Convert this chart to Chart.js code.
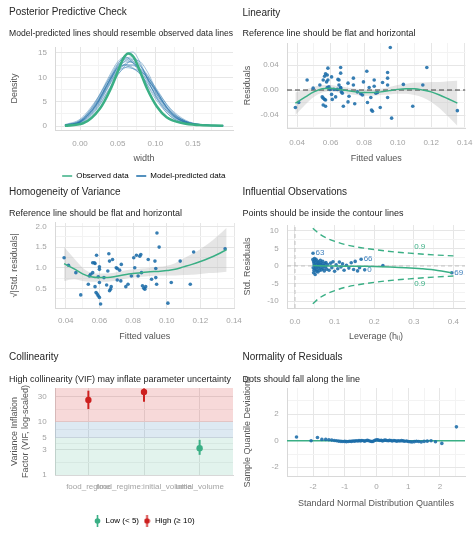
<!DOCTYPE html>
<html>
<head>
<meta charset="utf-8">
<title>Model checks</title>
<script src="https://cdn.jsdelivr.net/npm/chart.js@4.4.1/dist/chart.umd.min.js"></script>
<style>
  html, body { margin: 0; padding: 0; background: #fff; }
  #wrap { position: relative; width: 474px; height: 533px; }
  #wrap canvas { position: absolute; left: 0; top: 0; }
</style>
</head>
<body>
<div id="wrap">
  <canvas id="ppc" width="474" height="533"></canvas>
  <canvas id="lin" width="474" height="533"></canvas>
  <canvas id="homo" width="474" height="533"></canvas>
  <canvas id="infl" width="474" height="533"></canvas>
  <canvas id="vif" width="474" height="533"></canvas>
  <canvas id="qq" width="474" height="533"></canvas>
</div>
<script>
// ---- data ----

// Posterior predictive check
const obsX = [-0.02, 0.004, 0.0265, 0.04, 0.051, 0.0576, 0.064, 0.071, 0.08, 0.089, 0.102, 0.115, 0.137, 0.159, 0.19];
const obsY = [0.07, 0.55, 3.6, 7.4, 11.5, 13.9, 14.9, 14.2, 11.1, 7.7, 4.0, 1.8, 0.55, 0.2, 0.06];
const drawX = [-0.02, 0, 0.02, 0.04, 0.05, 0.06, 0.07, 0.08, 0.09, 0.10, 0.12, 0.14, 0.16, 0.19];
const ppcDraws = [
  [0.1, 0.8, 4.0, 9.5, 12.0, 13.2, 13.0, 11.5, 9.0, 6.5, 2.6, 0.8, 0.2, 0.05],
  [0.2, 1.2, 4.6, 10.2, 12.8, 14.0, 13.4, 11.0, 8.2, 5.6, 2.0, 0.6, 0.2, 0.05],
  [0.1, 0.6, 3.2, 8.0, 10.6, 12.0, 12.4, 11.6, 9.8, 7.4, 3.2, 1.0, 0.3, 0.05],
  [0.1, 0.9, 4.2, 9.8, 12.6, 14.6, 15.2, 13.0, 9.6, 6.2, 2.0, 0.6, 0.2, 0.04],
  [0.3, 1.4, 5.0, 10.0, 12.0, 12.6, 12.0, 10.6, 8.8, 6.8, 3.0, 1.0, 0.3, 0.06],
  [0.1, 0.7, 3.6, 8.8, 11.6, 13.4, 13.8, 12.4, 9.8, 7.0, 2.6, 0.7, 0.2, 0.04],
  [0.2, 1.0, 4.4, 9.6, 11.8, 12.4, 11.8, 10.8, 9.4, 7.6, 3.6, 1.2, 0.3, 0.05],
  [0.1, 0.5, 3.0, 7.8, 10.4, 12.4, 13.6, 13.2, 11.0, 7.8, 2.8, 0.7, 0.2, 0.04],
  [0.2, 1.1, 4.8, 10.6, 13.2, 14.2, 13.0, 10.8, 8.4, 6.0, 2.4, 0.8, 0.2, 0.05],
  [0.1, 0.8, 3.8, 9.0, 11.2, 12.0, 11.8, 11.2, 10.0, 8.0, 3.4, 1.0, 0.3, 0.05],
  [0.2, 1.0, 4.0, 9.2, 12.2, 13.6, 13.0, 11.6, 9.6, 7.2, 2.8, 0.8, 0.2, 0.05],
  [0.1, 0.7, 3.4, 8.6, 11.0, 12.8, 13.2, 12.2, 10.4, 7.6, 3.0, 0.9, 0.3, 0.05],
  [0.2, 0.9, 4.2, 9.4, 11.6, 12.6, 12.6, 11.8, 10.2, 7.4, 2.9, 0.9, 0.2, 0.05],
  [0.1, 0.8, 3.9, 9.6, 12.4, 13.8, 14.2, 12.6, 9.4, 6.4, 2.3, 0.7, 0.2, 0.04]
];
const ppcLegend = ['Observed data', 'Model-predicted data'];

// Linearity: fitted values vs residuals
const linX = [0.039,0.041,0.046,0.0496,0.0536,0.055,0.0556,0.0564,0.057,0.058,0.0576,0.0584,0.058,0.059,0.0556,0.0564,0.057,0.0556,0.057,0.0584,0.0596,0.0606,0.0606,0.061,0.062,0.063,0.064,0.0644,0.065,0.065,0.066,0.066,0.066,0.0664,0.067,0.0676,0.066,0.0704,0.0704,0.071,0.0736,0.0736,0.0744,0.076,0.078,0.079,0.0796,0.0816,0.082,0.083,0.084,0.0844,0.085,0.086,0.086,0.087,0.088,0.0896,0.091,0.094,0.094,0.094,0.094,0.0956,0.0964,0.1034,0.109,0.115,0.1174,0.1356];
const linY = [-0.028,-0.020,0.016,0.003,0.008,-0.011,0.016,0.022,0.026,0.024,0.013,0.016,0.004,0.005,-0.013,-0.015,-0.016,-0.024,-0.026,0.035,0.001,0.021,-0.007,-0.015,0.001,-0.011,0.001,0.017,0.016,0.008,0.027,0.036,0.004,-0.003,-0.005,-0.026,0.003,0.011,-0.019,-0.010,0.019,0.008,-0.022,-0.003,-0.006,-0.008,0.013,0.030,-0.020,0.004,-0.012,-0.032,-0.034,0.016,0.006,-0.005,-0.004,-0.028,0.012,0.028,0.019,0.008,-0.012,0.068,-0.045,0.009,-0.026,0.008,0.036,-0.033];
const smoothX = [0.039,0.045,0.05,0.055,0.06,0.065,0.07,0.075,0.08,0.085,0.09,0.095,0.1,0.105,0.11,0.115,0.12,0.125,0.13,0.1356];
const linFit = [-0.021,-0.011,-0.003,0.002,0.003,0.001,-0.001,-0.003,-0.004,-0.004,-0.003,-0.001,0.001,0.002,0.002,0.000,-0.003,-0.008,-0.014,-0.021];
const linUpper = [-0.004,0.001,0.005,0.008,0.008,0.006,0.004,0.002,0.001,0.001,0.002,0.005,0.008,0.010,0.012,0.012,0.013,0.013,0.014,0.015];
const linLower = [-0.040,-0.023,-0.011,-0.004,-0.002,-0.004,-0.006,-0.008,-0.009,-0.009,-0.008,-0.007,-0.006,-0.006,-0.008,-0.012,-0.019,-0.029,-0.042,-0.057];

// Homogeneity of variance: fitted values vs sqrt(|std. residuals|)
const homX = [0.039,0.0416,0.046,0.0489,0.0534,0.054,0.0548,0.056,0.056,0.057,0.0574,0.0583,0.0574,0.058,0.0587,0.0593,0.06,0.0593,0.06,0.06,0.0607,0.06,0.0627,0.0643,0.065,0.0656,0.066,0.0666,0.066,0.067,0.0678,0.07,0.0706,0.0706,0.072,0.073,0.0727,0.0757,0.077,0.079,0.0804,0.081,0.082,0.083,0.084,0.0846,0.085,0.0856,0.0864,0.087,0.0875,0.089,0.091,0.093,0.0935,0.0935,0.094,0.0942,0.0955,0.1007,0.1027,0.108,0.114,0.116,0.1347];
const homY = [1.24,1.06,0.88,0.34,0.60,0.80,0.84,0.88,1.12,1.12,1.10,1.30,0.54,0.40,0.36,0.32,0.28,0.78,0.96,1.02,0.12,0.64,0.76,0.58,0.92,1.34,1.16,0.48,0.44,0.54,1.20,1.00,0.98,0.70,0.94,1.08,0.68,0.54,0.60,0.80,1.24,1.00,1.30,0.80,1.28,1.32,0.88,0.56,0.50,0.48,0.54,1.20,0.72,1.16,0.98,0.76,0.60,1.84,1.50,0.14,0.64,1.16,0.60,1.38,1.46];
const homFit = [1.10,0.97,0.85,0.78,0.76,0.76,0.79,0.83,0.86,0.88,0.90,0.91,0.93,0.96,1.02,1.08,1.15,1.23,1.32,1.44];
const homUpper = [1.50,1.22,1.00,0.88,0.86,0.86,0.89,0.93,0.96,0.98,1.00,1.02,1.05,1.11,1.22,1.33,1.45,1.59,1.76,1.97];
const homLower = [0.68,0.72,0.68,0.66,0.66,0.66,0.69,0.73,0.76,0.78,0.80,0.81,0.81,0.81,0.82,0.83,0.85,0.87,0.88,0.90];

// Influential observations: leverage vs std. residuals
const levX = [0.045,0.046,0.047,0.047,0.048,0.048,0.049,0.049,0.05,0.05,0.051,0.052,0.052,0.053,0.054,0.055,0.055,0.056,0.057,0.058,0.058,0.059,0.06,0.06,0.062,0.063,0.064,0.065,0.066,0.067,0.068,0.07,0.071,0.072,0.074,0.075,0.077,0.078,0.08,0.082,0.086,0.09,0.093,0.096,0.1,0.104,0.108,0.112,0.116,0.12,0.124,0.13,0.136,0.142,0.148,0.152,0.158,0.163,0.222];
const levY = [1.8,-0.5,1.2,-1.9,0.6,-1.2,2.1,0.2,-0.8,1.5,-2.4,0.9,-0.3,1.9,-1.5,0.4,-1.0,1.4,-0.1,0.8,-1.7,0.2,1.1,-0.6,-1.3,0.5,1.6,-0.4,0.9,-1.1,0.3,1.3,-0.7,0.1,-1.4,0.7,-0.2,1.0,-0.9,0.4,-1.2,0.8,-0.5,1.2,-1.5,0.3,-0.8,1.1,-0.3,0.6,-1.2,0.2,-0.6,0.9,-1.0,1.3,-1.4,-0.5,0.15];
const flagX = [0.0455, 0.167, 0.176, 0.396];
const flagY = [3.6, 1.9, -1.1, -1.9];
const flagText = ['63', '66', '0', '69'];
const levFitX = [0.045, 0.08, 0.12, 0.16, 0.2, 0.24, 0.28, 0.32, 0.36, 0.396];
const levFitY = [0.1, 0.0, -0.05, -0.1, -0.15, -0.3, -0.5, -0.8, -1.25, -1.95];
const cookX = [0.045, 0.06, 0.08, 0.1, 0.125, 0.15, 0.2, 0.25, 0.3, 0.35, 0.4];
const cookUpper = [10.7, 9.2, 7.9, 7.0, 6.1, 5.5, 4.65, 4.0, 3.55, 3.15, 2.85];
const cookLower = [-10.7, -9.2, -7.9, -7.0, -6.1, -5.5, -4.65, -4.0, -3.55, -3.15, -2.85];
const cookLabelX = [0.315, 0.315];
const cookLabelY = [5.3, -5.0];
const cookLabel = '0.9';

// Collinearity
const terms = ['food_regime', 'food_regime:initial_volume', 'initial_volume'];
const vif = [26, 37, 3.2];
const vifLow = [17.5, 24, 2.4];
const vifHigh = [39, 43, 4.6];
const vifGroup = ['High', 'High', 'Low'];
const vifLegend = ['Low (< 5)', 'High (\u2265 10)'];
const vifCuts = [1, 5, 10];

// Normality of residuals (QQ)
const qqX = [-2.52,-2.06,-1.86,-1.72,-1.6,-1.5,-1.41,-1.33,-1.26,-1.19,-1.12,-1.06,-1.0,-0.95,-0.89,-0.84,-0.79,-0.74,-0.69,-0.64,-0.59,-0.55,-0.5,-0.46,-0.41,-0.37,-0.32,-0.28,-0.24,-0.19,-0.15,-0.11,-0.06,-0.02,0.02,0.06,0.11,0.15,0.19,0.24,0.28,0.32,0.37,0.41,0.46,0.5,0.55,0.59,0.64,0.69,0.74,0.79,0.84,0.89,0.95,1.0,1.06,1.12,1.19,1.26,1.33,1.41,1.5,1.6,1.72,1.86,2.06,2.52];
const qqY = [0.28,0.0,0.25,0.1,0.1,0.08,0.05,0.02,0.0,-0.03,-0.05,-0.06,-0.05,-0.07,-0.06,-0.04,-0.05,-0.02,-0.03,0.0,-0.02,0.01,-0.01,0.02,0.0,-0.03,0.02,0.03,0.0,-0.04,-0.06,-0.05,0.02,0.06,0.08,0.05,0.02,0.04,-0.01,0.03,0.05,0.02,0.0,0.03,0.01,-0.02,0.02,0.0,-0.03,0.0,-0.02,0.01,-0.01,-0.04,-0.02,-0.06,-0.08,-0.1,-0.07,-0.04,-0.06,-0.09,-0.05,-0.03,0.0,-0.08,-0.2,1.05];

// ---- drawing ----
const GREEN = '#3aaf85', BLUE = '#1b6ca8', RED = '#cd201f';
const DOT = 'rgba(27,108,168,0.88)';
const FONT = "'Liberation Sans', Arial, sans-serif";
Chart.defaults.font.family = FONT;
Chart.defaults.color = '#555';
Chart.defaults.events = [];

const pts = (xs, ys) => xs.map((x, i) => ({ x, y: ys[i] }));

function makeScale(o) {
  const all = o.majors.concat(o.minors || []).sort((a, b) => a - b);
  return {
    type: o.type || 'linear',
    min: o.min, max: o.max,
    afterBuildTicks: s => { s.ticks = all.map(v => ({ value: v })); },
    afterFit: s => {
      if (s.isHorizontal()) s.height = o.size; else s.width = o.size;
      s.paddingLeft = 0; s.paddingRight = 0; s.paddingTop = 0; s.paddingBottom = 0;
    },
    ticks: {
      autoSkip: false, maxRotation: 0, minRotation: 0, padding: o.pad,
      color: '#a3a3a3', font: { size: 8 },
      callback: v => { const i = o.majors.indexOf(v); return i < 0 ? '' : o.labels[i]; }
    },
    grid: {
      drawTicks: false, lineWidth: 1,
      color: c => (c.tick && o.majors.includes(c.tick.value)) ? '#e6e6e6' : '#f3f3f3'
    },
    border: { display: true, color: '#d8d8d8' },
    title: { display: !!o.title, text: o.title || '', color: '#555', font: { size: 9 }, padding: 0 }
  };
}

function panel(o) {
  return {
    responsive: false, animation: false,
    layout: { padding: o.padding },
    plugins: {
      title: { display: true, text: o.title, align: 'start', color: '#262626',
               font: { size: 10, weight: 'normal' }, padding: { top: 0, bottom: o.titlePad } },
      subtitle: { display: true, text: o.subtitle, align: 'start', color: '#262626',
                  font: { size: 9, weight: 'normal' }, padding: { top: 0, bottom: o.subPad } },
      legend: o.legend || { display: false },
      tooltip: { enabled: false },
      pointText: { items: o.labels || [] }
    },
    scales: { x: makeScale(o.x), y: makeScale(o.y) }
  };
}

// small text labels placed in data space
const pointText = {
  id: 'pointText',
  afterDatasetsDraw(chart, args, opts) {
    const { ctx, scales } = chart;
    ctx.save();
    ctx.font = '8px ' + FONT;
    ctx.textBaseline = 'middle';
    (opts.items || []).forEach(it => {
      ctx.textAlign = it.align || 'left';
      ctx.fillStyle = it.color;
      ctx.fillText(it.text, scales.x.getPixelForValue(it.x) + (it.dx || 0), scales.y.getPixelForValue(it.y));
    });
    ctx.restore();
  }
};

const line = (data, extra) => Object.assign({ data, showLine: true, pointRadius: 0, borderWidth: 1.5, fill: false }, extra);
const dots = (data, extra) => Object.assign({ data, showLine: false, pointRadius: 1.8, pointBorderWidth: 0, pointBackgroundColor: DOT }, extra);

// 1. Posterior predictive check
const ppcSets = ppcDraws.map(ys => line(pts(drawX, ys), {
  borderColor: 'rgba(27,108,168,0.4)', borderWidth: 1, cubicInterpolationMode: 'monotone', order: 1
}));
ppcSets.push(line(pts(obsX, obsY), { borderColor: GREEN, borderWidth: 2.6, cubicInterpolationMode: 'monotone', order: 0 }));

new Chart(document.getElementById('ppc'), {
  type: 'scatter',
  data: { datasets: ppcSets },
  plugins: [pointText],
  options: panel({
    padding: { left: 9, top: 6.5, right: 241, bottom: 343 },
    title: 'Posterior Predictive Check', titlePad: 10.1,
    subtitle: 'Model-predicted lines should resemble observed data lines', subPad: 7.6,
    x: { min: -0.0332, max: 0.2031, majors: [0, 0.05, 0.1, 0.15], labels: ['0.00', '0.05', '0.10', '0.15'],
         minors: [-0.025, 0.025, 0.075, 0.125, 0.175], size: 34.4, pad: 8.5, title: 'width' },
    y: { min: -0.82, max: 16.23, majors: [0, 5, 10, 15], labels: ['0', '5', '10', '15'],
         minors: [2.5, 7.5, 12.5], size: 46, pad: 8, title: 'Density' },
    legend: {
      display: true, position: 'bottom', align: 'end', fullSize: true,
      labels: {
        usePointStyle: true, pointStyleWidth: 10, padding: 7.6, color: '#555', font: { size: 8 },
        generateLabels: () => ppcLegend.map((t, i) => ({
          text: t, pointStyle: 'line', strokeStyle: [GREEN, BLUE][i], fillStyle: [GREEN, BLUE][i],
          lineWidth: 1.6, hidden: false, datasetIndex: i
        }))
      }
    }
  })
});

// 2. Linearity
const LIN_X = [0.034, 0.1404];
new Chart(document.getElementById('lin'), {
  type: 'scatter',
  data: { datasets: [
    line(pts(smoothX, linUpper), { borderWidth: 0, fill: '+1', backgroundColor: 'rgba(170,170,170,0.3)', cubicInterpolationMode: 'monotone', order: 5 }),
    line(pts(smoothX, linLower), { borderWidth: 0, cubicInterpolationMode: 'monotone', order: 5 }),
    line(pts(LIN_X, [0, 0]), { borderColor: '#404040', borderWidth: 1.2, borderDash: [5, 3], order: 4 }),
    dots(pts(linX, linY), { order: 2 }),
    line(pts(smoothX, linFit), { borderColor: GREEN, cubicInterpolationMode: 'monotone', order: 1 })
  ] },
  plugins: [pointText],
  options: panel({
    padding: { left: 242.5, top: 7.3, right: 8.6, bottom: 369.3 },
    title: 'Linearity', titlePad: 9.3,
    subtitle: 'Reference line should be flat and horizontal', subPad: 3.6,
    x: { min: LIN_X[0], max: LIN_X[1], majors: [0.04, 0.06, 0.08, 0.1, 0.12, 0.14],
         labels: ['0.04', '0.06', '0.08', '0.10', '0.12', '0.14'], minors: [0.05, 0.07, 0.09, 0.11, 0.13],
         size: 35.7, pad: 9.5, title: 'Fitted values' },
    y: { min: -0.0608, max: 0.0752, majors: [-0.04, 0, 0.04], labels: ['-0.04', '0.00', '0.04'],
         minors: [-0.06, -0.02, 0.02, 0.06], size: 44.5, pad: 8.3, title: 'Residuals' }
  })
});

// 3. Homogeneity of variance
new Chart(document.getElementById('homo'), {
  type: 'scatter',
  data: { datasets: [
    line(pts(smoothX, homUpper), { borderWidth: 0, fill: '+1', backgroundColor: 'rgba(170,170,170,0.3)', cubicInterpolationMode: 'monotone', order: 5 }),
    line(pts(smoothX, homLower), { borderWidth: 0, cubicInterpolationMode: 'monotone', order: 5 }),
    dots(pts(homX, homY), { order: 2 }),
    line(pts(smoothX, homFit), { borderColor: GREEN, cubicInterpolationMode: 'monotone', order: 1 })
  ] },
  plugins: [pointText],
  options: panel({
    padding: { left: 9, top: 186.7, right: 239.3, bottom: 190.9 },
    title: 'Homogeneity of Variance', titlePad: 9.2,
    subtitle: 'Reference line should be flat and horizontal', subPad: 4.3,
    x: { min: 0.0336, max: 0.1404, majors: [0.04, 0.06, 0.08, 0.1, 0.12, 0.14],
         labels: ['0.04', '0.06', '0.08', '0.10', '0.12', '0.14'], minors: [0.05, 0.07, 0.09, 0.11, 0.13],
         size: 34, pad: 7.9, title: 'Fitted values' },
    y: { min: 0.02, max: 2.084, majors: [0.5, 1, 1.5, 2], labels: ['0.5', '1.0', '1.5', '2.0'],
         minors: [0.25, 0.75, 1.25, 1.75], size: 46, pad: 8.3, title: '\u221A|Std. residuals|' }
  })
});

// 4. Influential observations
const INF_X = [-0.0202, 0.4293], INF_Y = [-11.9, 11.6];
const inflLabels = flagText.map((t, i) => ({ text: t, x: flagX[i], y: flagY[i], dx: 2.5, color: '#3f80bd' }))
  .concat(cookLabelY.map((y, i) => ({ text: cookLabel, x: cookLabelX[i], y, align: 'center', color: GREEN })));
new Chart(document.getElementById('infl'), {
  type: 'scatter',
  data: { datasets: [
    line(pts([0, 0], INF_Y), { borderColor: '#b5b5b5', borderWidth: 0.8, borderDash: [4, 3], order: 6 }),
    line(pts(INF_X, [0, 0]), { borderColor: '#b5b5b5', borderWidth: 0.8, borderDash: [4, 3], order: 6 }),
    line(pts(cookX, cookUpper), { borderColor: GREEN, borderWidth: 1.4, borderDash: [6, 4], cubicInterpolationMode: 'monotone', order: 5 }),
    line(pts(cookX, cookLower), { borderColor: GREEN, borderWidth: 1.4, borderDash: [6, 4], cubicInterpolationMode: 'monotone', order: 5 }),
    dots(pts(levX, levY), { order: 2 }),
    dots(pts(flagX, flagY), { order: 2 }),
    line(pts(levFitX, levFitY), { borderColor: GREEN, cubicInterpolationMode: 'monotone', order: 1 })
  ] },
  plugins: [pointText],
  options: panel({
    padding: { left: 242.5, top: 186.3, right: 9, bottom: 190.9 },
    title: 'Influential Observations', titlePad: 9.6,
    subtitle: 'Points should be inside the contour lines', subPad: 6.3,
    labels: inflLabels,
    x: { min: INF_X[0], max: INF_X[1], majors: [0, 0.1, 0.2, 0.3, 0.4], labels: ['0.0', '0.1', '0.2', '0.3', '0.4'],
         minors: [0.05, 0.15, 0.25, 0.35], size: 34.1, pad: 8.9, title: 'Leverage (h\u1D62\u1D62)' },
    y: { min: INF_Y[0], max: INF_Y[1], majors: [-10, -5, 0, 5, 10], labels: ['-10', '-5', '0', '5', '10'],
         minors: [-7.5, -2.5, 2.5, 7.5], size: 44.5, pad: 8.3, title: 'Std. Residuals' }
  })
});

// 5. Collinearity
function rangeIcon(color) {
  const c = document.createElement('canvas');
  c.width = 7; c.height = 12;
  const g = c.getContext('2d');
  g.strokeStyle = color; g.fillStyle = color; g.lineWidth = 1.6;
  g.beginPath(); g.moveTo(3.5, 0); g.lineTo(3.5, 12); g.stroke();
  g.beginPath(); g.arc(3.5, 6, 2.8, 0, Math.PI * 2); g.fill();
  return c;
}
const groupColor = g => g === 'High' ? RED : GREEN;
const VIF_X = [0, 4];
const bars = terms.map((t, i) => line(pts([i + 1, i + 1], [vifLow[i], vifHigh[i]]), {
  borderColor: groupColor(vifGroup[i]), borderWidth: 2, order: 2
}));
new Chart(document.getElementById('vif'), {
  type: 'scatter',
  data: { datasets: [
    line(pts(VIF_X, [vifCuts[2], vifCuts[2]]), { borderWidth: 0, fill: 'end', backgroundColor: 'rgba(205,32,31,0.17)', order: 9 }),
    line(pts(VIF_X, [vifCuts[1], vifCuts[1]]), { borderWidth: 0, fill: { value: vifCuts[2] }, backgroundColor: 'rgba(27,108,168,0.15)', order: 9 }),
    line(pts(VIF_X, [vifCuts[0], vifCuts[0]]), { borderWidth: 0, fill: { value: vifCuts[1] }, backgroundColor: 'rgba(58,175,133,0.15)', order: 9 }),
    ...bars,
    dots(pts([1, 2, 3], vif), { pointRadius: 3.2, pointBackgroundColor: vifGroup.map(groupColor), order: 1 })
  ] },
  plugins: [pointText],
  options: panel({
    padding: { left: 9, top: 351.3, right: 241, bottom: -2 },
    title: 'Collinearity', titlePad: 10.6,
    subtitle: 'High collinearity (VIF) may inflate parameter uncertainty', subPad: 3.3,
    x: { min: 0.4, max: 3.6, majors: [1, 2, 3], labels: terms, minors: [], size: 38, pad: 6.9 },
    y: { type: 'logarithmic', min: 1, max: 43.8, majors: [1, 3, 5, 10, 30], labels: ['1', '3', '5', '10', '30'],
         minors: [1.73, 3.87, 7.07, 17.3], size: 46, pad: 8.3,
         title: ['Variance Inflation', 'Factor (VIF, log-scaled)'] },
    legend: {
      display: true, position: 'bottom', align: 'center', fullSize: false,
      labels: {
        usePointStyle: true, pointStyleWidth: 8, padding: 4, color: '#555', font: { size: 8 },
        generateLabels: () => vifLegend.map((t, i) => {
          const col = [GREEN, RED][i];
          return { text: t, pointStyle: rangeIcon(col), fillStyle: col, strokeStyle: col, lineWidth: 0, hidden: false, datasetIndex: i };
        })
      }
    }
  })
});

// 6. Normality of residuals
const QQ_X = [-2.82, 2.79];
new Chart(document.getElementById('qq'), {
  type: 'scatter',
  data: { datasets: [
    line(pts(QQ_X, [0, 0]), { borderColor: GREEN, borderWidth: 1.5, order: 3 }),
    dots(pts(qqX, qqY), { order: 1 })
  ] },
  plugins: [pointText],
  options: panel({
    padding: { left: 242.5, top: 351.3, right: 9, bottom: 23.6 },
    title: 'Normality of Residuals', titlePad: 10.6,
    subtitle: 'Dots should fall along the line', subPad: 3.3,
    x: { min: QQ_X[0], max: QQ_X[1], majors: [-2, -1, 0, 1, 2], labels: ['-2', '-1', '0', '1', '2'],
         minors: [-2.5, -1.5, -0.5, 0.5, 1.5, 2.5], size: 33.4, pad: 5.9, title: 'Standard Normal Distribution Quantiles' },
    y: { min: -2.66, max: 3.98, majors: [-2, 0, 2], labels: ['-2', '0', '2'],
         minors: [-1, 1, 3], size: 44.5, pad: 8.3, title: 'Sample Quantile Deviations' }
  })
});
</script>
</body>
</html>
